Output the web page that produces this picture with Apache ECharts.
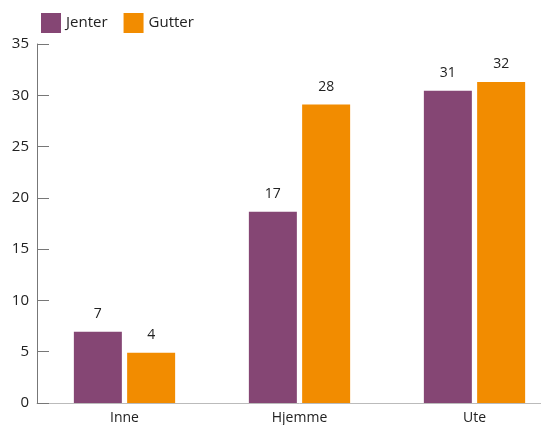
<!DOCTYPE html>
<html lang="no">
<head>
    <meta charset="UTF-8">
    <title>Jenter og gutter</title>
    <script type="text/javascript" src="https://cdn.jsdelivr.net/npm/echarts@6/dist/echarts.min.js"></script>
    <style>
        html, body { margin: 0; padding: 0; background: #fff; overflow: hidden; }
        /* plot area runs past the right edge in the original, so the canvas is a bit wider than the window */
        #chart { width: 562px; height: 425px; }
    </style>
</head>
<body>
<div id="chart"></div>
<script type="text/javascript">
    var categories = ['Inne', 'Hjemme', 'Ute'];
    var jenter = [6.95, 18.65, 30.45];
    var gutter = [4.9, 29.1, 31.3];
    var jenterLabels = ['7', '17', '31'];
    var gutterLabels = ['4', '28', '32'];
    var yTicks = [0, 35, 5];

    var font = '"Open Sans", "Noto Sans", sans-serif';

    function labelFrom(arr) {
        return {
            show: true,
            position: 'top',
            distance: 11,
            color: '#222',
            fontSize: 14,
            fontFamily: font,
            formatter: function (p) { return arr[p.dataIndex]; }
        };
    }

    var mychart = echarts.init(document.getElementById('chart'));
    var option = {
        animation: false,
        textStyle: { fontFamily: font },
        legend: {
            data: ['Jenter', 'Gutter'],
            left: 36,
            top: 8,
            itemWidth: 20,
            itemHeight: 20,
            itemGap: 16,
            icon: 'rect',
            textStyle: { fontSize: 15, color: '#222', fontFamily: font }
        },
        grid: {
            left: 37,
            top: 44,
            right: 0,
            bottom: 22,
            containLabel: false
        },
        xAxis: {
            type: 'category',
            data: categories,
            axisLine: { lineStyle: { color: '#bbb', width: 1 } },
            axisTick: { show: false },
            axisLabel: { color: '#222', fontSize: 14, margin: 8, fontFamily: font }
        },
        yAxis: {
            type: 'value',
            min: yTicks[0],
            max: yTicks[1],
            interval: yTicks[2],
            splitLine: { show: false },
            axisLine: { show: true, lineStyle: { color: '#777', width: 1 } },
            axisTick: { show: true, inside: true, length: 12, lineStyle: { color: '#777' } },
            axisLabel: { color: '#222', fontSize: 15, margin: 8, fontFamily: font }
        },
        series: [
            {
                name: 'Jenter',
                type: 'bar',
                data: jenter,
                barWidth: 48,
                barGap: '11%',
                itemStyle: { color: '#854674' },
                label: labelFrom(jenterLabels)
            },
            {
                name: 'Gutter',
                type: 'bar',
                data: gutter,
                barWidth: 48,
                itemStyle: { color: '#f28c00' },
                label: labelFrom(gutterLabels)
            }
        ]
    };
    mychart.setOption(option);
</script>
</body>
</html>
